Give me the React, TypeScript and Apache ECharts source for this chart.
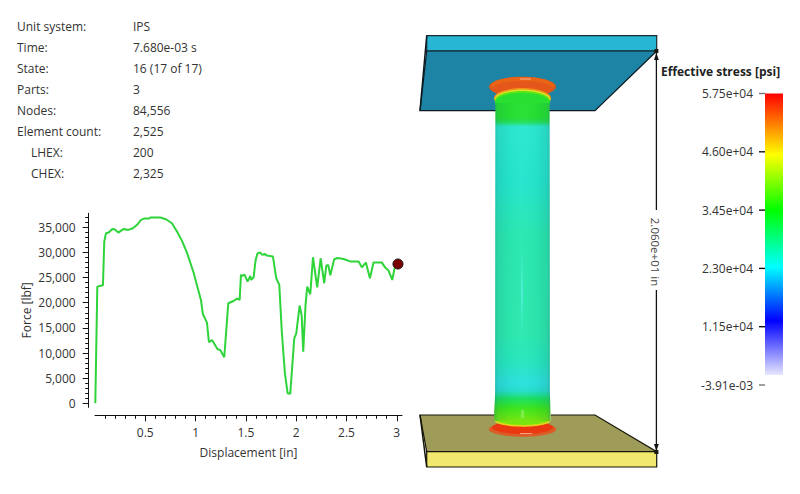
import React, { useEffect, useRef } from "react";
import * as echarts from "echarts";

const FONT = "'Open Sans', 'Noto Sans', sans-serif";

const infoLabels = ["Unit system:", "Time:", "State:", "Parts:", "Nodes:", "Element count:", "LHEX:", "CHEX:"];
const infoValues = ["IPS", "7.680e-03 s", "16 (17 of 17)", "3", "84,556", "2,525", "200", "2,325"];

const displacement = [
  0.003, 0.023, 0.046, 0.079, 0.092, 0.109, 0.136, 0.172, 0.195, 0.232, 0.285, 0.331, 0.377, 0.424, 0.457, 0.49,
  0.533, 0.55, 0.649, 0.705, 0.765, 0.815, 0.864, 0.914, 0.98, 1.013, 1.053, 1.073, 1.113, 1.133, 1.163, 1.219,
  1.245, 1.285, 1.325, 1.378, 1.411, 1.438, 1.451, 1.467, 1.487, 1.517, 1.544, 1.553, 1.577, 1.597, 1.616, 1.643,
  1.663, 1.686, 1.709, 1.769, 1.802, 1.832, 1.858, 1.888, 1.915, 1.941, 1.981, 2.001, 2.034, 2.054, 2.07, 2.093,
  2.11, 2.14, 2.167, 2.209, 2.243, 2.279, 2.299, 2.319, 2.339, 2.378, 2.412, 2.471, 2.544, 2.62, 2.653, 2.693,
  2.733, 2.769, 2.852, 2.885, 2.918, 2.955, 2.978, 3.012,
];
const force = [
  0, 23200, 23340, 23470, 32150, 33800, 33950, 34670, 34600, 33950, 34670, 34480, 34800, 35600, 36470, 36730,
  36730, 36930, 36930, 36600, 35800, 34150, 32350, 29970, 26000, 23540, 20550, 17700, 16050, 12130, 12600, 10740,
  10600, 9150, 19900, 20350, 20820, 20550, 25530, 25330, 25590, 24200, 25330, 24530, 25060, 28500, 29830, 29970,
  29500, 29700, 29370, 29170, 24860, 23540, 13920, 5970, 1990, 1920, 12930, 13920, 19430, 17570, 10280, 19560,
  23200, 21680, 29040, 23070, 28840, 23870, 27380, 27510, 25460, 28640, 28900, 28700, 28180, 28180, 27050, 27980,
  24860, 27980, 27980, 26980, 26390, 24530, 26850, 27700,
];

const xMajor = [0.5, 1, 1.5, 2, 2.5, 3];
const xMinor = [0.1, 0.2, 0.3, 0.4, 0.6, 0.7, 0.8, 0.9, 1.1, 1.2, 1.3, 1.4, 1.6, 1.7, 1.8, 1.9, 2.1, 2.2, 2.3, 2.4, 2.6, 2.7, 2.8, 2.9];
const yMajor = [0, 5000, 10000, 15000, 20000, 25000, 30000, 35000];
const yMinor = [
  1000, 2000, 3000, 4000, 6000, 7000, 8000, 9000, 11000, 12000, 13000, 14000, 16000, 17000, 18000, 19000, 21000,
  22000, 23000, 24000, 26000, 27000, 28000, 29000, 31000, 32000, 33000, 34000, 36000, 37000,
];

const stressInner = [11500, 23000, 34500, 46000];
const stressEnds = [-0.00391, 57500];
const stressLabels: Record<string, string> = {
  "-0.00391": "-3.91e-03",
  "11500": "1.15e+04",
  "23000": "2.30e+04",
  "34500": "3.45e+04",
  "46000": "4.60e+04",
  "57500": "5.75e+04",
};

const grad = (x2: number, y2: number, stops: [number, string][]) => ({
  type: "linear",
  x: 0,
  y: 0,
  x2,
  y2,
  colorStops: stops.map(([offset, color]) => ({ offset, color })),
});

const poly = (points: number[][], fill: any, stroke?: string, lineWidth = 1.2) => ({
  type: "polygon",
  shape: { points },
  style: { fill, stroke: stroke || "none", lineWidth },
});
const ell = (cx: number, cy: number, rx: number, ry: number, fill: any) => ({
  type: "ellipse",
  shape: { cx, cy, rx, ry },
  style: { fill },
});
const seg = (x1: number, y1: number, x2: number, y2: number, stroke = "#111", lineWidth = 1.3) => ({
  type: "line",
  shape: { x1, y1, x2, y2 },
  style: { stroke, lineWidth },
});

function buildGraphics() {
  const els: any[] = [];
  const rowY = [26.5, 47.5, 68.5, 89.5, 110.5, 131.5, 152.5, 173];
  infoLabels.forEach((t, i) => {
    els.push({
      type: "text",
      x: i >= 6 ? 31 : 17,
      y: rowY[i],
      style: { text: t, font: `12px ${FONT}`, fill: "#333", textVerticalAlign: "middle" },
    });
    els.push({
      type: "text",
      x: 133,
      y: rowY[i],
      style: { text: infoValues[i], font: `12px ${FONT}`, fill: "#333", textVerticalAlign: "middle" },
    });
  });

  // Top plate
  els.push(poly([[426.7, 35.7], [656.7, 35.7], [656.7, 51], [426.7, 51]], "#27b6d4", "#1c2a30"));
  els.push(poly([[426.7, 51], [656.7, 51], [595, 110.7], [420, 110.7]], "#1d84a6", "#0c1a20"));
  els.push(seg(426.7, 35.7, 420, 110.7, "#0c1a20", 1.5));

  // Bottom plate
  els.push(poly([[420, 415], [595, 415], [656.7, 451.7], [426.7, 451.7]], "#9f9b59", "#15150a"));
  els.push(poly([[426.7, 451.7], [656.7, 451.7], [656.7, 467], [426.7, 467]], "#f0e96e", "#15150a"));
  els.push(seg(420, 415, 426.7, 467, "#15150a", 1.5));

  // Upper flange
  els.push(ell(522.5, 86.7, 33.5, 10, "#d95a1e"));
  els.push(ell(522.5, 85.5, 31.5, 8.5, "#ea6416"));
  els.push(ell(522.5, 89, 30.5, 8, "#e4561a"));
  els.push(ell(522.5, 98, 28.5, 10, "#f0901c"));
  els.push(ell(522.5, 99.5, 28, 10, "#dce426"));
  els.push(ell(522.5, 101, 27.6, 10, "#58e418"));
  els.push(ell(522.5, 103, 27.4, 10, "#28e032"));
  els.push(seg(520, 79, 531, 79, "#f5b090", 1));

  // Lower flange
  els.push(ell(522.5, 429.2, 33.7, 7.5, "#dc5c28"));
  els.push(ell(522.5, 427.5, 30.5, 6.5, "#ea3810"));
  els.push(ell(522.5, 420.5, 28, 6.2, "#e8d41c"));
  els.push(ell(522.5, 418.8, 28, 6.2, "#78e60e"));
  els.push(seg(520, 433.5, 532, 433.5, "#f5a080", 1));

  // Column
  const columnOutline = [
    [495.4, 103], [549.6, 103], [549.9, 392], [550.2, 402], [550.6, 412], [550.6, 418], [550.4, 421], [494.5, 421],
    [494.2, 418], [494.2, 412], [494.8, 402], [495.1, 392],
  ];
  const columnColors: [number, string][] = [
    [0, "#28e032"],
    [0.045, "#25e032"],
    [0.06, "#25df5a"],
    [0.075, "#2be8d0"],
    [0.25, "#24e5ce"],
    [0.42, "#2ae8b0"],
    [0.72, "#2ce9ae"],
    [0.82, "#27e6c0"],
    [0.88, "#2de0de"],
    [0.905, "#26dece"],
    [0.93, "#1ae060"],
    [0.96, "#3ce61c"],
    [1, "#78e60e"],
  ];
  els.push(poly(columnOutline, grad(0, 1, columnColors)));
  els.push(
    poly(
      columnOutline,
      grad(1, 0, [
        [0, "rgba(20,90,110,0.3)"],
        [0.07, "rgba(20,90,90,0.12)"],
        [0.25, "rgba(0,60,60,0.03)"],
        [0.5, "rgba(255,255,255,0.02)"],
        [0.75, "rgba(0,60,60,0.03)"],
        [0.93, "rgba(20,90,90,0.12)"],
        [0.985, "rgba(60,110,120,0.32)"],
        [1, "rgba(210,220,225,0.8)"],
      ])
    )
  );
  els.push({
    type: "rect",
    shape: { x: 521, y: 240, width: 1.8, height: 104 },
    style: {
      fill: grad(0, 1, [
        [0, "rgba(60,235,200,0)"],
        [0.5, "rgba(90,240,225,0.9)"],
        [1, "rgba(60,235,200,0)"],
      ]),
    },
  });
  els.push({ type: "rect", shape: { x: 521, y: 410, width: 3, height: 8 }, style: { fill: "rgba(150,240,110,0.6)" } });

  // Dimension
  els.push(seg(656.4, 52, 656.4, 210));
  els.push(seg(656.4, 290, 656.4, 452));
  els.push(poly([[656.4, 53], [654, 60], [658.8, 60]], "#111"));
  els.push(poly([[656.4, 451], [654, 444], [658.8, 444]], "#111"));
  els.push({ type: "rect", shape: { x: 654.4, y: 49, width: 4, height: 4 }, style: { fill: "#1a1a10" } });
  els.push({ type: "rect", shape: { x: 654.4, y: 450, width: 4, height: 4 }, style: { fill: "#1a1a10" } });
  els.push({
    type: "text",
    x: 655,
    y: 252,
    rotation: -Math.PI / 2,
    style: { text: "2.060e+01 in", font: `11.5px ${FONT}`, fill: "#444", textAlign: "center", textVerticalAlign: "middle" },
  });
  els.push({
    type: "text",
    x: 661,
    y: 71.5,
    style: { text: "Effective stress [psi]", font: `bold 12px ${FONT}`, fill: "#222", textVerticalAlign: "middle" },
  });
  return els;
}

export default function App() {
  const ref = useRef<HTMLDivElement>(null);
  useEffect(() => {
    const chart = echarts.init(ref.current!, undefined, { renderer: "svg" });
    const axisText = { color: "#333", fontSize: 12, fontFamily: FONT };
    const blackLine = { lineStyle: { color: "#111", width: 1 } };
    const xRange = { min: 0, max: 3.052 };
    const yRange = { min: -795, max: 37780 };
    const stressRange = { min: -0.00391, max: 57500 };
    const dataRect = { left: 95, top: 213.3, width: 307, height: 194 };
    const yAxisRect = { left: 88.7, top: 213.3, width: 313, height: 194 };
    const xAxisRect = { left: 95, top: 213.3, width: 307, height: 202 };
    const barRect = { left: 765, top: 93.5, width: 18, height: 291.5 };
    const tickRect = { left: 759, top: 93.5, width: 6, height: 291.5 };
    const hiddenX = (gridIndex: number) => ({ type: "value", gridIndex, ...xRange, show: false });
    const hiddenY = (gridIndex: number) => ({ type: "value", gridIndex, ...yRange, show: false });
    const hiddenCat = (gridIndex: number) => ({ type: "category", gridIndex, data: ["stress"], show: false });
    const tickSeries = (values: number[], color: string) => ({
      type: "scatter",
      xAxisIndex: 6,
      yAxisIndex: 6,
      z: 100,
      zlevel: 5,
      clip: false,
      symbol: "rect",
      symbolSize: [6, 1.4],
      data: values.map((v) => [0.5, v]),
      itemStyle: { color, opacity: 1 },
    });
    chart.setOption({
      animation: false,
      backgroundColor: "#fff",
      textStyle: { fontFamily: FONT },
      grid: [dataRect, yAxisRect, yAxisRect, xAxisRect, xAxisRect, barRect, tickRect],
      xAxis: [
        hiddenX(0),
        hiddenX(1),
        hiddenX(2),
        {
          type: "value",
          gridIndex: 3,
          ...xRange,
          position: "bottom",
          name: "Displacement [in]",
          nameLocation: "middle",
          nameGap: 31,
          nameTextStyle: axisText,
          splitLine: { show: false },
          axisLine: { show: true, onZero: false, ...blackLine },
          axisTick: { show: true, length: 6, customValues: xMajor, ...blackLine },
          axisLabel: { ...axisText, margin: 11, customValues: xMajor, formatter: (v: number) => String(v) },
        },
        {
          type: "value",
          gridIndex: 4,
          ...xRange,
          position: "bottom",
          splitLine: { show: false },
          axisLine: { show: false, onZero: false },
          axisTick: { show: true, length: 3.5, customValues: xMinor, ...blackLine },
          axisLabel: { show: false },
        },
        hiddenCat(5),
        { type: "value", gridIndex: 6, min: 0, max: 1, show: false },
      ],
      yAxis: [
        hiddenY(0),
        {
          type: "value",
          gridIndex: 1,
          ...yRange,
          position: "left",
          name: "Force [lbf]",
          nameLocation: "middle",
          nameGap: 56,
          nameTextStyle: axisText,
          splitLine: { show: false },
          axisLine: { show: true, onZero: false, ...blackLine },
          axisTick: { show: true, length: 6, customValues: yMajor, ...blackLine },
          axisLabel: {
            ...axisText,
            margin: 13,
            customValues: yMajor,
            formatter: (v: number) => v.toLocaleString("en-US"),
          },
        },
        {
          type: "value",
          gridIndex: 2,
          ...yRange,
          position: "left",
          splitLine: { show: false },
          axisLine: { show: false, onZero: false },
          axisTick: { show: true, length: 3.5, customValues: yMinor, ...blackLine },
          axisLabel: { show: false },
        },
        hiddenY(3),
        hiddenY(4),
        {
          type: "value",
          gridIndex: 5,
          ...stressRange,
          position: "left",
          splitLine: { show: false },
          axisLine: { show: false, onZero: false },
          axisTick: { show: false },
          axisLabel: {
            ...axisText,
            margin: 12,
            customValues: [...stressEnds, ...stressInner],
            formatter: (v: number) => stressLabels[String(v)] ?? String(v),
          },
        },
        { type: "value", gridIndex: 6, ...stressRange, show: false },
      ],
      series: [
        {
          type: "line",
          xAxisIndex: 0,
          yAxisIndex: 0,
          z: 3,
          data: displacement.map((d, i) => [d, force[i]]),
          showSymbol: false,
          symbol: "none",
          lineStyle: { color: "#2fd43b", width: 2 },
          clip: false,
        },
        {
          type: "scatter",
          xAxisIndex: 0,
          yAxisIndex: 0,
          z: 6,
          data: [[displacement[displacement.length - 1], force[force.length - 1]]],
          symbolSize: 10,
          itemStyle: { color: "#7b0000", borderColor: "#111", borderWidth: 1, opacity: 1 },
          clip: false,
        },
        {
          type: "bar",
          xAxisIndex: 5,
          yAxisIndex: 5,
          data: [stressEnds[1]],
          barWidth: "100%",
          itemStyle: {
            color: new echarts.graphic.LinearGradient(0, 0, 0, 1, [
              { offset: 0, color: "#ff0000" },
              { offset: 0.21, color: "#ffff00" },
              { offset: 0.4, color: "#00ff00" },
              { offset: 0.595, color: "#00ffff" },
              { offset: 0.78, color: "#0000ff" },
              { offset: 0.965, color: "#e6e6ff" },
              { offset: 0.966, color: "#ffffff" },
              { offset: 1, color: "#ffffff" },
            ]),
          },
        },
        tickSeries(stressInner, "#111"),
        tickSeries(stressEnds, "#777"),
      ],
      graphic: { elements: buildGraphics() },
    });
    return () => chart.dispose();
  }, []);
  return <div ref={ref} style={{ position: "fixed", left: 0, top: 0, width: 800, height: 494 }} />;
}
